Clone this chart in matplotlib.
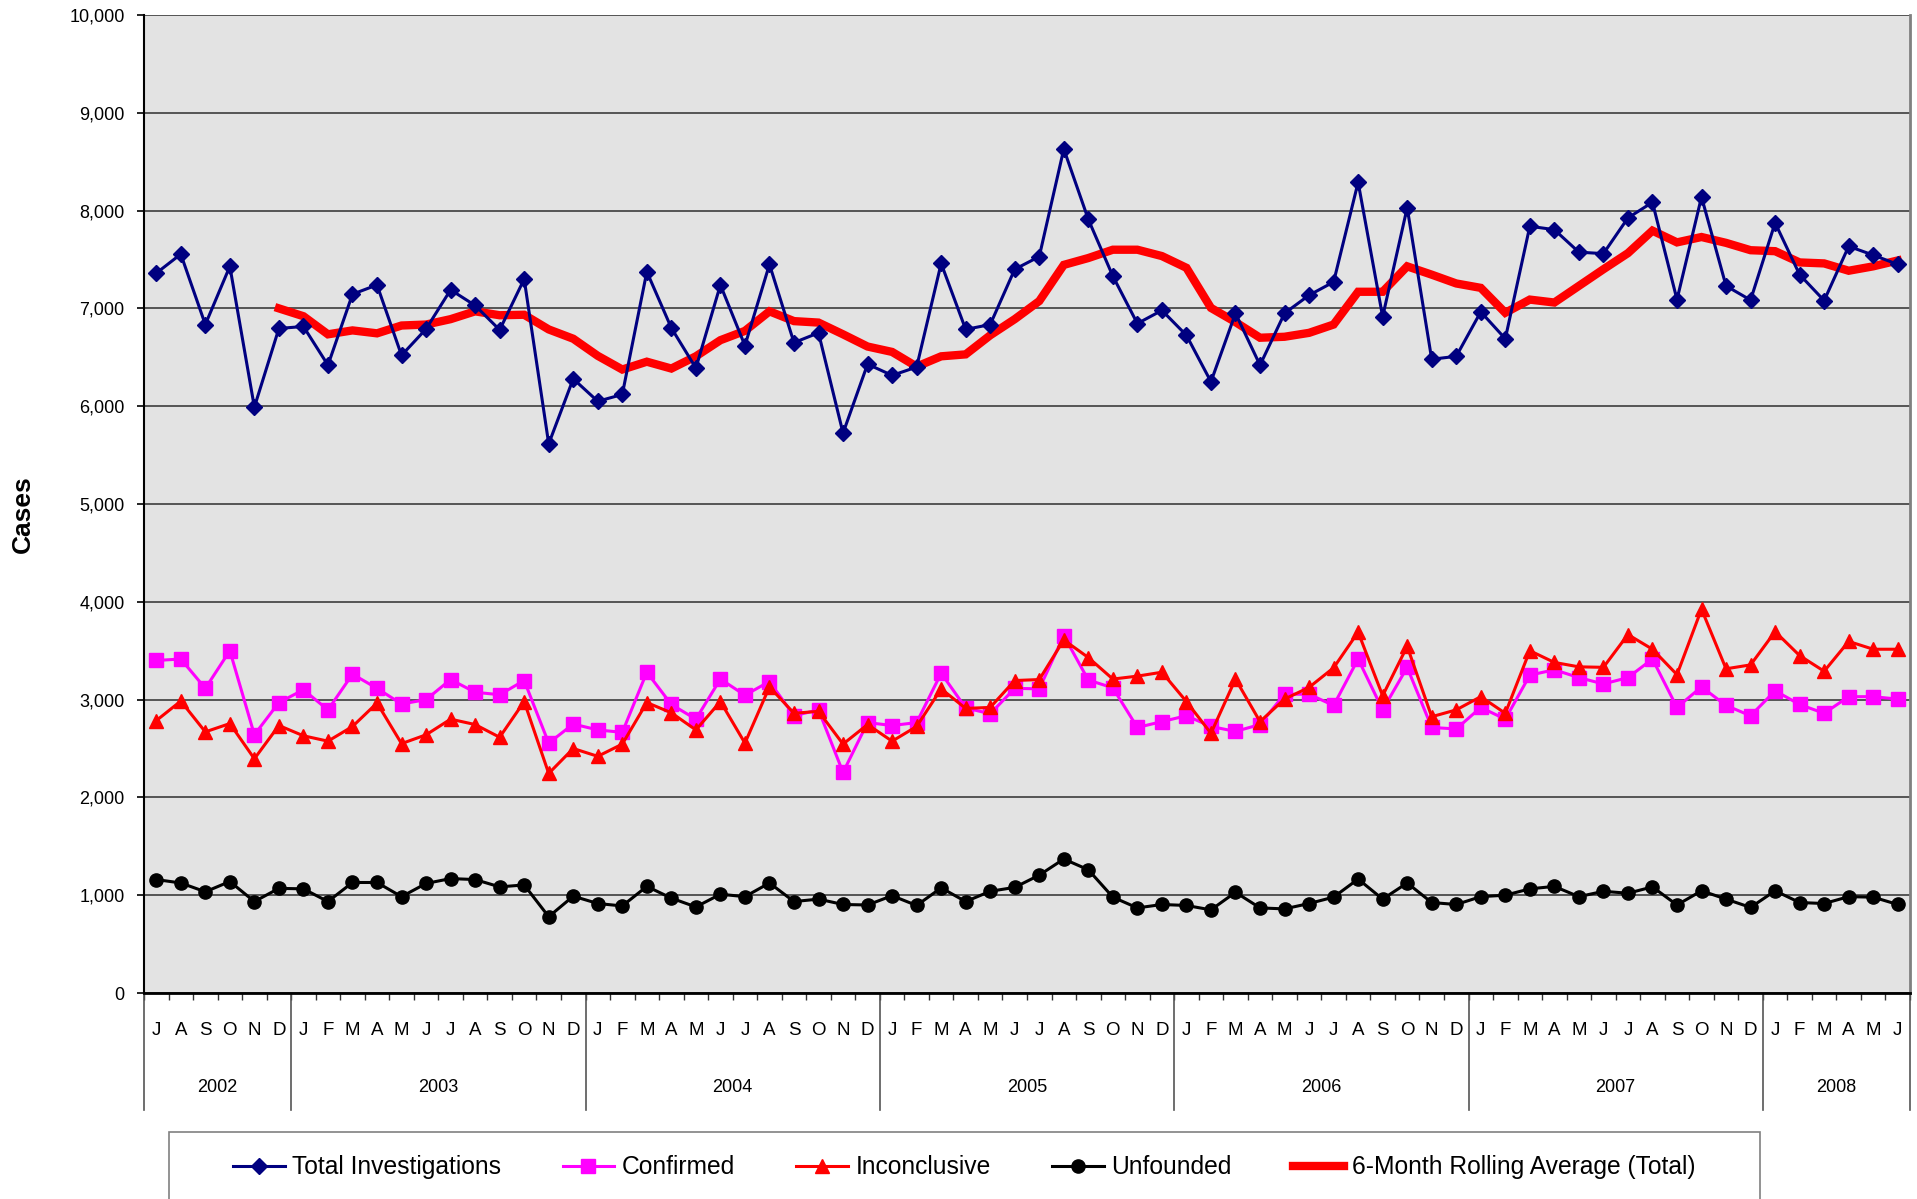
"""Monthly case counts Jul 2002 - Jun 2008 with a 6-month rolling average of the total."""

import matplotlib

matplotlib.use('Agg')
import matplotlib.pyplot as plt
import matplotlib.transforms as mtransforms
from matplotlib.lines import Line2D
from matplotlib.patches import Rectangle
from matplotlib.ticker import FuncFormatter
import numpy as np

plt.rcParams['font.family'] = ['Liberation Sans', 'DejaVu Sans']

YEARS = ['2002', '2003', '2004', '2005', '2006', '2007', '2008']
MONTHS_IN_YEAR = [6, 12, 12, 12, 12, 12, 6]
MONTH_LETTERS = (
    ['J', 'A', 'S', 'O', 'N', 'D']
    + ['J', 'F', 'M', 'A', 'M', 'J', 'J', 'A', 'S', 'O', 'N', 'D'] * 5
    + ['J', 'F', 'M', 'A', 'M', 'J']
)

TOTAL = [
    7360, 7555, 6835, 7430, 5990, 6795,
    6815, 6420, 7145, 7240, 6520, 6790, 7190, 7030, 6780, 7300, 5615, 6280,
    6050, 6120, 7375, 6800, 6390, 7240, 6620, 7450, 6650, 6750, 5725, 6430,
    6315, 6400, 7460, 6785, 6835, 7400, 7530, 8630, 7910, 7330, 6845, 6980,
    6725, 6250, 6950, 6420, 6950, 7135, 7270, 8290, 6915, 8030, 6480, 6510,
    6965, 6690, 7840, 7805, 7575, 7560, 7925, 8085, 7090, 8140, 7230, 7085,
    7875, 7345, 7080, 7635, 7545, 7450,
]

CONFIRMED = [
    3400, 3415, 3115, 3500, 2640, 2970,
    3100, 2895, 3260, 3115, 2955, 3000, 3205, 3075, 3050, 3195, 2555, 2750,
    2690, 2665, 3280, 2950, 2800, 3210, 3045, 3185, 2835, 2895, 2255, 2765,
    2735, 2765, 3270, 2915, 2855, 3115, 3110, 3655, 3200, 3120, 2715, 2775,
    2835, 2725, 2675, 2745, 3055, 3055, 2940, 3415, 2895, 3330, 2715, 2700,
    2920, 2800, 3250, 3305, 3225, 3160, 3225, 3415, 2920, 3130, 2940, 2835,
    3090, 2950, 2860, 3030, 3030, 3005,
]

INCONCLUSIVE = [
    2785, 2985, 2670, 2755, 2395, 2735,
    2630, 2575, 2725, 2965, 2550, 2640, 2800, 2745, 2615, 2980, 2245, 2500,
    2420, 2545, 2970, 2865, 2690, 2980, 2555, 3130, 2860, 2880, 2545, 2745,
    2575, 2725, 3110, 2910, 2920, 3195, 3205, 3610, 3430, 3210, 3240, 3280,
    2980, 2655, 3210, 2775, 3005, 3125, 3325, 3690, 3040, 3545, 2825, 2895,
    3030, 2860, 3500, 3380, 3335, 3330, 3665, 3515, 3255, 3925, 3315, 3355,
    3695, 3450, 3290, 3595, 3515, 3515,
]

UNFOUNDED = [
    1160, 1125, 1035, 1140, 935, 1070,
    1065, 935, 1130, 1130, 985, 1120, 1170, 1160, 1085, 1105, 780, 990,
    915, 890, 1090, 970, 880, 1010, 985, 1125, 935, 960, 905, 900,
    995, 895, 1075, 935, 1040, 1080, 1205, 1370, 1260, 980, 870, 905,
    895, 850, 1030, 870, 860, 915, 980, 1165, 960, 1125, 925, 905,
    985, 1000, 1065, 1090, 985, 1040, 1020, 1085, 900, 1045, 960, 875,
    1045, 925, 915, 985, 980, 905,
]

# 6-month rolling average of the total, first value at Dec 2002
ROLLING_START = 5
ROLLING = [
    7000,
    6920, 6735, 6775, 6745, 6825, 6835, 6890, 6970, 6930, 6935, 6785, 6690,
    6515, 6375, 6455, 6385, 6510, 6675, 6770, 6970, 6870, 6855, 6735, 6610,
    6555, 6405, 6510, 6530, 6725, 6890, 7075, 7445, 7515, 7600, 7600, 7535,
    7415, 7005, 6860, 6700, 6710, 6750, 6835, 7170, 7170, 7430, 7345, 7255,
    7210, 6955, 7090, 7060, 7230, 7400, 7565, 7795, 7675, 7730, 7670, 7595,
    7585, 7470, 7460, 7385, 7430, 7490,
]

W, H = 1917, 1199
fig = plt.figure(figsize=(W / 100, H / 100), dpi=100)
ax = fig.add_axes([144 / W, 1 - 993 / H, (1910 - 144) / W, (993 - 15) / H])
ax.set_facecolor('#e3e3e3')

x = np.arange(len(TOTAL))
x_roll = np.arange(ROLLING_START, ROLLING_START + len(ROLLING))

ax.plot(x_roll, ROLLING, color='#ff0000', linewidth=6, solid_joinstyle='miter',
        zorder=3, label='6-Month Rolling Average (Total)')
ax.plot(x, CONFIRMED, color='#ff00ff', linewidth=2.2, marker='s', markersize=10.5,
        zorder=4, label='Confirmed')
ax.plot(x, INCONCLUSIVE, color='#ff0000', linewidth=2.2, marker='^', markersize=10.5,
        zorder=5, label='Inconclusive')
ax.plot(x, UNFOUNDED, color='#000000', linewidth=2.2, marker='o', markersize=9.5,
        zorder=5, label='Unfounded')
ax.plot(x, TOTAL, color='#000080', linewidth=2.2, marker='D', markersize=8,
        zorder=6, label='Total Investigations')

ax.set_xlim(-0.5, len(TOTAL) - 0.5)
ax.set_ylim(0, 10000)
ax.set_yticks(np.arange(0, 10001, 1000))
ax.yaxis.set_major_formatter(FuncFormatter(lambda v, _: f'{int(v):,}'))
ax.yaxis.grid(True, color='#4a4a4a', linewidth=1.3)
ax.set_axisbelow(True)
ax.tick_params(axis='y', labelsize=13, length=5, width=1.2, pad=9)

ax.set_xticks(x)
ax.set_xticklabels(MONTH_LETTERS)
ax.set_xticks(np.arange(-0.5, len(TOTAL), 1), minor=True)
ax.tick_params(axis='x', which='major', length=0, labelsize=13.5, pad=21)
ax.tick_params(axis='x', which='minor', length=5, width=1, color='#333333')

ax.set_ylabel('Cases', fontsize=19, fontweight='bold')
ax.yaxis.set_label_coords(-0.062, 0.49)

ax.spines['top'].set_visible(False)
ax.spines['right'].set_color('#808080')
ax.spines['right'].set_linewidth(2)
ax.spines['left'].set_linewidth(1.5)
ax.spines['bottom'].set_linewidth(2)

# year row under the month letters
trans = mtransforms.blended_transform_factory(ax.transData, ax.transAxes)
bounds = np.concatenate([[0], np.cumsum(MONTHS_IN_YEAR)]) - 0.5
for b in bounds:
    ax.add_line(Line2D([b, b], [0, -0.12], transform=trans, color='#555555',
                       linewidth=1.2, clip_on=False))
for year, lo, hi in zip(YEARS, bounds[:-1], bounds[1:]):
    ax.text((lo + hi) / 2, -0.097, year, transform=trans, ha='center',
            va='center', fontsize=13)

# legend box running off the bottom edge
fig.patches.append(Rectangle((169 / W, -0.01), (1760 - 169) / W, 0.0559 + 0.01,
                             transform=fig.transFigure, facecolor='white',
                             edgecolor='#808080', linewidth=1.2))
order = ['Total Investigations', 'Confirmed', 'Inconclusive', 'Unfounded',
         '6-Month Rolling Average (Total)']
handles, labels = ax.get_legend_handles_labels()
lookup = dict(zip(labels, handles))
fig.legend([lookup[k] for k in order], order, loc='center',
           bbox_to_anchor=(0.503, 0.0265), ncol=5, frameon=False, fontsize=17.7,
           handlelength=2.1, handletextpad=0.3, columnspacing=2.5)

fig.savefig('out.png', dpi=100)
